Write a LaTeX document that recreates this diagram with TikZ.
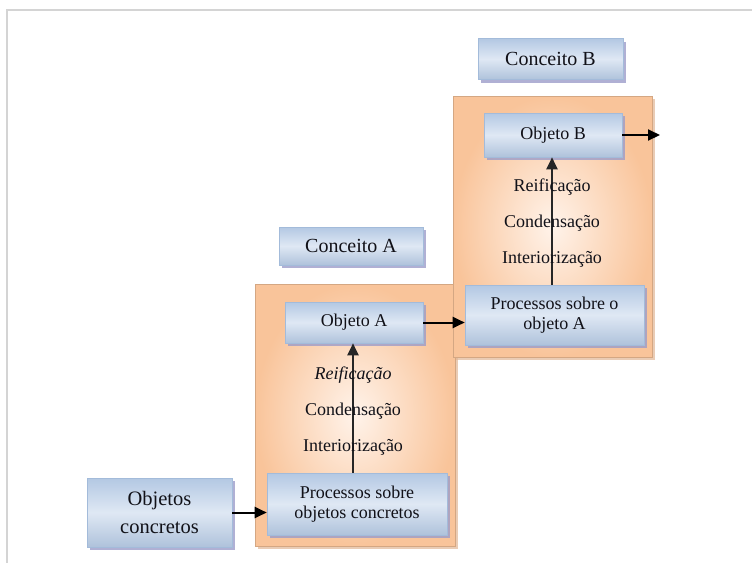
\documentclass[tikz,border=0pt]{standalone}
\usepackage{fontspec}
\setmainfont{Liberation Serif}
\usetikzlibrary{shadows,arrows.meta}
\definecolor{frameline}{HTML}{D4D4D4}
\definecolor{blueedge}{HTML}{A3BBDA}
\definecolor{bluelight}{HTML}{DFE8F4}
\definecolor{bluemid}{HTML}{B3C8E3}
\definecolor{orangeout}{HTML}{F9C49A}
\definecolor{orangein}{HTML}{FFF3EA}
\definecolor{inktext}{HTML}{111118}
\tikzset{
  bluebox/.style={rectangle, draw=blueedge, line width=0.6pt,
    top color=bluemid, bottom color=bluemid!92!gray, middle color=bluelight,
    drop shadow={shadow xshift=3pt, shadow yshift=-3pt, fill=gray!70!blue!60, opacity=0.8},
    align=center, text=inktext, inner sep=0pt,
    font=\fontsize{18}{20}\selectfont},
  conceptbox/.style={bluebox, font=\fontsize{20}{22}\selectfont},
  stagebox/.style={rectangle, draw=orangeout!85!black, line width=0.4pt,
    inner color=orangein, outer color=orangeout,
    drop shadow={shadow xshift=3pt, shadow yshift=-3pt, fill=orangeout!80!gray, opacity=0.7},
    inner sep=0pt},
  stagelabel/.style={text=inktext, inner sep=1pt, font=\fontsize{18}{20}\selectfont},
  flow/.style={line width=2pt, draw=black, -{Triangle[length=12pt,width=11pt]}},
  riser/.style={line width=2pt, draw=black!85, -{Triangle[length=12pt,width=11pt]}}
}
\begin{document}
\begin{tikzpicture}[x=1pt,y=-1pt]
  \useasboundingbox (0,0) rectangle (752,563);
  % page frame
  \draw[frameline, line width=1.4pt] (752,10) -- (7,10) -- (7,563);

  % stage backgrounds
  \node[stagebox, minimum width=200pt, minimum height=262pt] (stageA) at (355,415) {};
  \node[stagebox, minimum width=199pt, minimum height=261pt] (stageB) at (552.5,226.5) {};

  % concept headings
  \node[conceptbox, minimum width=145pt, minimum height=41pt] (conB) at (550.5,59) {Conceito B};
  \node[conceptbox, minimum width=144pt, minimum height=38pt] (conA) at (351,246) {Conceito A};

  % objects and processes
  \node[bluebox, minimum width=138pt, minimum height=44pt] (objB) at (553,135) {Objeto B};
  \node[bluebox, minimum width=179pt, minimum height=60pt] (procA) at (554.5,315) {Processos sobre o\\objeto A};
  \node[bluebox, minimum width=138pt, minimum height=41pt] (objA) at (354,322.5) {Objeto A};
  \node[bluebox, minimum width=180pt, minimum height=62pt] (procC) at (357,504) {Processos sobre\\objetos concretos};
  \node[bluebox, minimum width=145pt, minimum height=69pt,
        font=\fontsize{20.5}{28}\selectfont] (objC) at (159.5,512.5) {Objetos\\concretos};

  \coordinate (outB) at (660,135);

  % vertical transitions
  \draw[riser] (procA.north -| 552,0) -- (objB.south -| 552,0);
  \draw[riser] (procC.north -| 353,0) -- (objA.south -| 353,0);

  % stage labels
  \node[stagelabel] (reiB) at (552,187) {Reificação};
  \node[stagelabel] (conDB) at (552,223) {Condensação};
  \node[stagelabel] (intB) at (552,259) {Interiorização};
  \node[stagelabel] (reiA) at (353,375) {\itshape Reificação};
  \node[stagelabel] (conDA) at (353,411) {Condensação};
  \node[stagelabel] (intA) at (353,447) {Interiorização};

  % horizontal connectors
  \draw[flow] (objC.east) -- (procC.west |- objC.east);
  \draw[flow] (objA.east) -- (procA.west |- objA.east);
  \draw[flow] (objB.east) -- (outB);
\end{tikzpicture}
\end{document}
